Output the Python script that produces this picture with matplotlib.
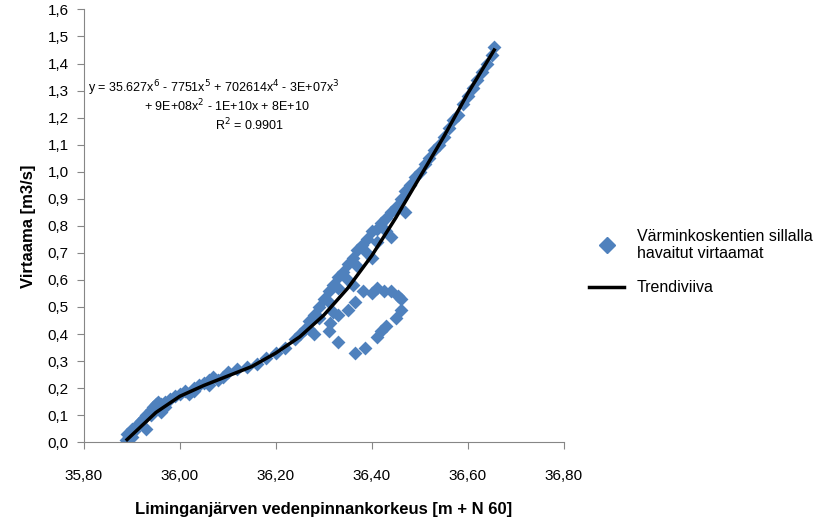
import matplotlib
matplotlib.use("Agg")
from matplotlib import pyplot as plt
from matplotlib.lines import Line2D

plt.rcParams['font.family'] = 'Liberation Sans'

# havaitut virtaamat
obs_x = [35.887, 35.89, 35.895, 35.90, 35.905, 35.91, 35.915, 35.92, 35.925, 35.93, 35.94,
         35.945, 35.95, 35.955, 35.96, 35.97, 35.98, 35.99, 36.00, 36.01, 36.02, 36.03,
         36.04, 36.05, 36.06, 36.07, 36.08, 36.09, 36.10, 36.12, 36.14, 36.16, 36.18,
         36.20, 36.22, 36.24, 36.25, 36.26, 36.27, 36.28, 36.29, 36.30, 36.31, 36.32,
         36.33, 36.34, 36.35, 36.36, 36.37, 36.38, 36.39, 36.40, 36.41, 36.42, 36.43,
         36.44, 36.45, 36.46, 36.47, 36.48, 36.49, 36.50, 36.51, 36.52, 36.53, 36.54,
         36.55, 36.56, 36.57, 36.58, 36.59, 36.60, 36.61, 36.62, 36.63, 36.64, 36.65,
         36.655,
         # hysteresis loop
         36.3125, 36.33, 36.35, 36.365, 36.381, 36.40, 36.41, 36.425, 36.44, 36.455,
         36.46, 36.46, 36.45, 36.43, 36.42, 36.41, 36.385, 36.365, 36.33, 36.31,
         # wider band points
         35.90, 35.93, 35.94, 35.96, 35.97, 36.03, 36.06, 36.27, 36.29, 36.31, 36.33,
         36.35, 36.37, 36.39, 36.41, 36.43, 36.28, 36.32, 36.36, 36.40, 36.44, 36.47]
obs_y = [0.01, 0.03, 0.02, 0.05, 0.04, 0.06, 0.07, 0.08, 0.09, 0.10, 0.12,
         0.13, 0.14, 0.15, 0.14, 0.15, 0.16, 0.17, 0.18, 0.19, 0.18, 0.20,
         0.21, 0.22, 0.23, 0.24, 0.23, 0.24, 0.26, 0.27, 0.28, 0.29, 0.31,
         0.33, 0.35, 0.38, 0.40, 0.42, 0.45, 0.47, 0.50, 0.53, 0.56, 0.58,
         0.61, 0.63, 0.66, 0.68, 0.71, 0.73, 0.75, 0.78, 0.79, 0.81, 0.83,
         0.85, 0.87, 0.90, 0.93, 0.95, 0.98, 1.00, 1.03, 1.05, 1.08, 1.10,
         1.13, 1.16, 1.19, 1.21, 1.25, 1.28, 1.31, 1.34, 1.37, 1.40, 1.43,
         1.46,
         0.44, 0.47, 0.49, 0.52, 0.56, 0.55, 0.57, 0.56, 0.56, 0.54,
         0.53, 0.49, 0.46, 0.43, 0.41, 0.39, 0.35, 0.33, 0.37, 0.41,
         0.02, 0.05, 0.10, 0.11, 0.13, 0.19, 0.21, 0.42, 0.46, 0.52, 0.57,
         0.60, 0.65, 0.70, 0.74, 0.78, 0.40, 0.48, 0.58, 0.68, 0.76, 0.85]

# trendiviiva
trend_x = [35.89, 35.92, 35.95, 36.00, 36.05, 36.10, 36.15, 36.20, 36.25, 36.30,
           36.35, 36.40, 36.45, 36.50, 36.55, 36.60, 36.655]
trend_y = [0.01, 0.06, 0.11, 0.17, 0.21, 0.245, 0.28, 0.33, 0.39, 0.47,
           0.57, 0.69, 0.83, 0.98, 1.13, 1.29, 1.45]

xticks = [35.8, 36.0, 36.2, 36.4, 36.6, 36.8]
yticks = [i / 10 for i in range(17)]

blue = '#4F81BD'
fig = plt.figure(figsize=(8.39, 5.24), dpi=100)
ax = fig.add_axes([0.100, 0.156, 0.572, 0.826])
ax.scatter(obs_x, obs_y, marker='D', s=50, color=blue, linewidths=0, zorder=2)
ax.plot(trend_x, trend_y, color='black', lw=2.5, zorder=3)

ax.set_xlim(35.8, 36.8)
ax.set_ylim(0, 1.6)
ax.set_xticks(xticks)
ax.set_xticklabels([f'{v:.2f}'.replace('.', ',') for v in xticks], fontsize=11)
ax.set_yticks(yticks)
ax.set_yticklabels([f'{v:.1f}'.replace('.', ',') for v in yticks], fontsize=11)
for s in ['top', 'right']:
    ax.spines[s].set_visible(False)
for s in ['left', 'bottom']:
    ax.spines[s].set_color('#868686')
ax.tick_params(direction='out', length=5, color='#868686', pad=6)
ax.tick_params(axis='x', pad=14)
ax.set_xlabel('Liminganjärven vedenpinnankorkeus [m + N 60]', fontsize=12,
              fontweight='bold', labelpad=14)
ax.set_ylabel('Virtaama [m3/s]', fontsize=12, fontweight='bold', labelpad=8)

fig.text(0.255, 0.832, 'y = 35.627x$^6$ - 7751x$^5$ + 702614x$^4$ - 3E+07x$^3$',
         ha='center', va='center', fontsize=9)
fig.text(0.27, 0.797, '+ 9E+08x$^2$ - 1E+10x + 8E+10', ha='center', va='center', fontsize=9)
fig.text(0.297, 0.761, 'R$^2$ = 0.9901', ha='center', va='center', fontsize=9)

handles = [Line2D([], [], marker='D', ls='none', color=blue, markersize=8),
           Line2D([], [], color='black', lw=2.5)]
fig.legend(handles, ['Värminkoskentien sillalla\nhavaitut virtaamat', 'Trendiviiva'],
           loc='center left', bbox_to_anchor=(0.685, 0.5), frameon=False,
           fontsize=11.5, handlelength=2.2, labelspacing=1.2)

fig.savefig('out.png')
